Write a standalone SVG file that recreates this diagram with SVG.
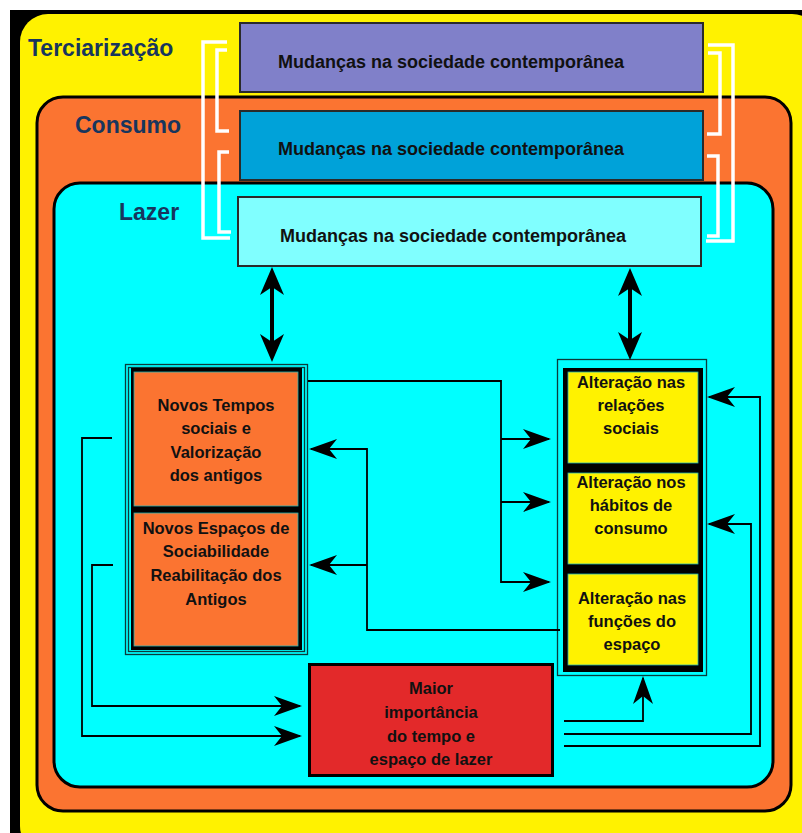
<svg xmlns="http://www.w3.org/2000/svg" width="802" height="833" viewBox="0 0 802 833">
  <style>
    .title { font-family: "Liberation Sans", Arial, sans-serif; font-weight: bold; font-size: 23px; fill: #17365d; }
    .head { font-family: "Liberation Sans", Arial, sans-serif; font-weight: bold; font-size: 18px; fill: #111; text-anchor: middle; }
    .lbl { font-family: "Liberation Sans", Arial, sans-serif; font-weight: bold; font-size: 16.5px; fill: #111; text-anchor: middle; }
    .panel { stroke: #000; stroke-width: 3; }
    .topbox { stroke: #2a2a2a; stroke-width: 2; }
    .frame { fill: none; stroke: #0b3b3b; stroke-width: 1.3; }
    .brace { fill: none; stroke: #fff; stroke-width: 3.5; }
    .wire { fill: none; stroke: #000; stroke-width: 1.8; }
    .wire.arr { marker-end: url(#tip); }
    .thick { fill: none; stroke: #000; stroke-width: 4; marker-start: url(#bigtip); marker-end: url(#bigtip); }
  </style>
  <defs>
    <marker id="tip" viewBox="0 0 28 20" refX="26" refY="10" markerWidth="28" markerHeight="20" markerUnits="userSpaceOnUse" orient="auto-start-reverse">
      <path d="M0,0 L28,10 L0,20 L8,10 Z" fill="#000"/>
    </marker>
    <marker id="bigtip" viewBox="0 0 28 24" refX="18" refY="12" markerWidth="28" markerHeight="24" markerUnits="userSpaceOnUse" orient="auto-start-reverse">
      <path d="M0,0 L28,12 L0,24 L8,12 Z" fill="#000"/>
    </marker>
  </defs>

  <!-- backdrop and nested panels -->
  <rect x="10" y="10" width="792" height="823" fill="#000"/>
  <rect x="20" y="14" width="800" height="840" rx="28" fill="#fff200"/>
  <rect class="panel" x="37" y="97" width="754" height="714" rx="26" fill="#fb7431"/>
  <rect class="panel" x="54" y="183" width="719" height="604" rx="26" fill="#00ffff"/>

  <text class="title" x="28" y="56">Terciarização</text>
  <text class="title" x="75" y="133">Consumo</text>
  <text class="title" x="119" y="220">Lazer</text>

  <!-- top headline boxes -->
  <g id="mudancas-terciarizacao">
    <rect class="topbox" x="240" y="23" width="463" height="69" fill="#8080c9"/>
    <text class="head" x="451" y="68">Mudanças na sociedade contemporânea</text>
  </g>
  <g id="mudancas-consumo">
    <rect class="topbox" x="240" y="111" width="463" height="69" fill="#00a2d9"/>
    <text class="head" x="451" y="155">Mudanças na sociedade contemporânea</text>
  </g>
  <g id="mudancas-lazer">
    <rect class="topbox" x="238" y="197" width="463" height="69" fill="#80ffff"/>
    <text class="head" x="453" y="242">Mudanças na sociedade contemporânea</text>
  </g>

  <!-- white brackets -->
  <g id="brackets">
    <path class="brace" d="M227,42 H203 V238 H230"/>
    <path class="brace" d="M227,50 H217 V131 H229"/>
    <path class="brace" d="M229,152 H219 V232 H231"/>
    <path class="brace" d="M708,45 H733 V241 H706"/>
    <path class="brace" d="M708,53 H720 V134 H707"/>
    <path class="brace" d="M707,156 H718 V236 H707"/>
  </g>

  <!-- left column -->
  <g id="novos">
    <rect class="frame" x="125.5" y="364.5" width="182" height="290"/>
    <rect class="frame" x="128.5" y="367.5" width="176" height="284"/>
    <rect x="131" y="368" width="171" height="282" fill="#000"/>
  </g>
  <g id="novos-tempos">
    <rect x="134" y="372" width="164" height="134" fill="#fb7431" stroke="#1fb5b5" stroke-width="0.8"/>
    <text class="lbl" x="216" y="411">Novos Tempos</text>
    <text class="lbl" x="216" y="434">sociais e</text>
    <text class="lbl" x="216" y="458">Valorização</text>
    <text class="lbl" x="216" y="481">dos antigos</text>
  </g>
  <g id="novos-espacos">
    <rect x="134" y="513" width="164" height="133" fill="#fb7431" stroke="#1fb5b5" stroke-width="0.8"/>
    <text class="lbl" x="216" y="534">Novos Espaços de</text>
    <text class="lbl" x="216" y="557">Sociabilidade</text>
    <text class="lbl" x="216" y="581">Reabilitação dos</text>
    <text class="lbl" x="216" y="605">Antigos</text>
  </g>

  <!-- right column -->
  <g id="alteracoes">
    <rect class="frame" x="557.5" y="359.5" width="149" height="316"/>
    <rect x="563" y="368" width="140" height="304" fill="#000"/>
  </g>
  <g id="relacoes-sociais">
    <rect x="568" y="372" width="130" height="91" fill="#fff200" stroke="#1fb5b5" stroke-width="0.8"/>
    <text class="lbl" x="631" y="388">Alteração nas</text>
    <text class="lbl" x="631" y="411">relações</text>
    <text class="lbl" x="631" y="434">sociais</text>
  </g>
  <g id="habitos-consumo">
    <rect x="568" y="473" width="130" height="91" fill="#fff200" stroke="#1fb5b5" stroke-width="0.8"/>
    <text class="lbl" x="631" y="488">Alteração nos</text>
    <text class="lbl" x="631" y="511">hábitos de</text>
    <text class="lbl" x="631" y="534">consumo</text>
  </g>
  <g id="funcoes-espaco">
    <rect x="568" y="574" width="130" height="91" fill="#fff200" stroke="#1fb5b5" stroke-width="0.8"/>
    <text class="lbl" x="632" y="604">Alteração nas</text>
    <text class="lbl" x="632" y="627">funções do</text>
    <text class="lbl" x="632" y="650">espaço</text>
  </g>

  <!-- bottom box -->
  <g id="maior-importancia">
    <rect x="309.5" y="664.5" width="243" height="111" fill="#e3292a" stroke="#000" stroke-width="3"/>
    <text class="lbl" x="431" y="694">Maior</text>
    <text class="lbl" x="431" y="718">importância</text>
    <text class="lbl" x="431" y="742">do tempo e</text>
    <text class="lbl" x="431" y="765">espaço de lazer</text>
  </g>

  <!-- connectors -->
  <g id="connectors">
    <line class="thick" x1="272" y1="277" x2="272" y2="352"/>
    <line class="thick" x1="630" y1="278" x2="630" y2="350"/>

    <path class="wire arr" d="M308,381 H501 V582 H549"/>
    <path class="wire arr" d="M501,439 H549"/>
    <path class="wire arr" d="M501,502 H549"/>

    <path class="wire arr" d="M560,630 H367 V449 H311"/>
    <path class="wire arr" d="M367,565 H311"/>

    <path class="wire arr" d="M112,438 H82 V736 H300"/>
    <path class="wire arr" d="M113,565 H92 V706 H300"/>

    <path class="wire arr" d="M564,721 H643 V678"/>
    <path class="wire arr" d="M564,734 H751 V524 H709"/>
    <path class="wire arr" d="M564,746 H760 V397 H709"/>
  </g>
</svg>
